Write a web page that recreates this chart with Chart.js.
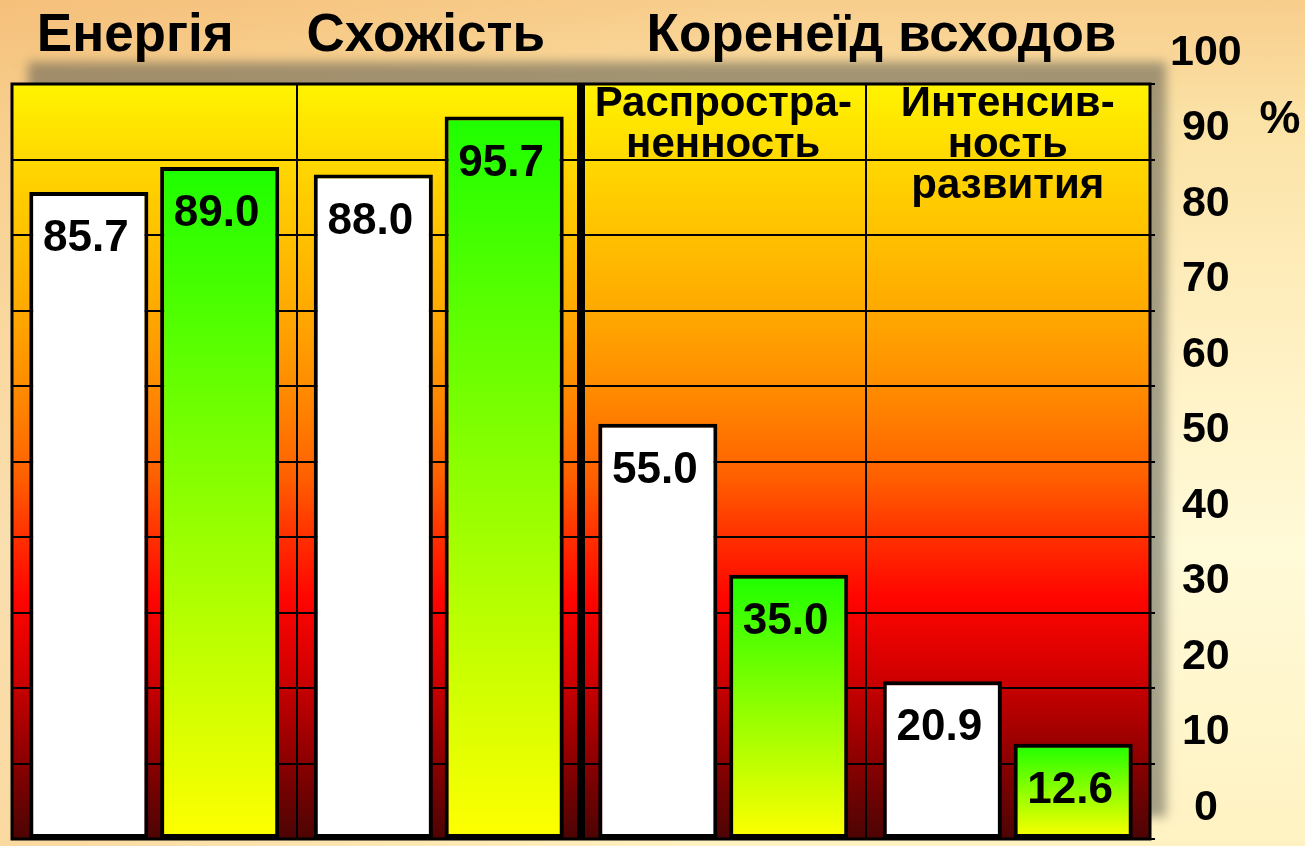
<!DOCTYPE html>
<html>
<head>
<meta charset="utf-8">
<script src="https://cdn.jsdelivr.net/npm/chart.js@4"></script>
<style>
  html, body { margin: 0; padding: 0; }
  body {
    width: 1305px; height: 846px; overflow: hidden;
    background:
      linear-gradient(90deg, rgba(238,160,80,0.30) 0%, rgba(255,255,255,0) 55%),
      linear-gradient(180deg, #f8cd8c 0%, #fbe2a6 14%, #fff0c2 40%, #fffad8 65%, #fff2c2 100%);
  }
  #wrap { position: absolute; left: 0; top: 0; width: 1305px; height: 846px; }
</style>
</head>
<body>
<div id="wrap"><canvas id="chart" width="1305" height="846"></canvas></div>
<script>
// values
var categories = ['Енергія', 'Схожість', 'Распространенность', 'Интенсивность развития'];
var control = [85.7, 88.0, 55.0, 20.9];
var treated = [89.0, 95.7, 35.0, 12.6];

// text above the plot and inside its top rows
var titles = [
  { text: 'Енергія', from: 0, to: 0 },
  { text: 'Схожість', from: 1, to: 1 },
  { text: 'Коренеїд всходов', from: 2, to: 3 }
];
var headers = [[], [], ['Распростра-', 'ненность'], ['Интенсив-', 'ность', 'развития']];

var FONT = '"Liberation Sans", Arial, sans-serif';
// the slide's titles are not quite centred over their columns
var titleShift = [-19, -13, 16];

function greenFill(ctx) {
  var chart = ctx.chart;
  if (!chart.chartArea || ctx.type !== 'data') return '#44ff00';
  var y = chart.scales.y;
  var g = chart.ctx.createLinearGradient(0, y.getPixelForValue(ctx.raw), 0, y.getPixelForValue(0));
  g.addColorStop(0, '#1eff00');
  g.addColorStop(1, '#ffff00');
  return g;
}

const plotBackground = {
  id: 'plotBackground',
  beforeDraw(chart) {
    const { ctx, chartArea: a } = chart;
    const g = ctx.createLinearGradient(0, a.top, 0, a.bottom);
    g.addColorStop(0.00, '#fff400');
    g.addColorStop(0.10, '#ffd800');
    g.addColorStop(0.22, '#ffbc00');
    g.addColorStop(0.32, '#ffa400');
    g.addColorStop(0.42, '#ff8600');
    g.addColorStop(0.52, '#ff6000');
    g.addColorStop(0.60, '#ff3000');
    g.addColorStop(0.68, '#ff0500');
    g.addColorStop(0.78, '#d20000');
    g.addColorStop(0.88, '#960000');
    g.addColorStop(1.00, '#4c0404');
    ctx.save();
    ctx.shadowColor = 'rgba(90, 90, 80, 0.55)';
    ctx.shadowBlur = 10;
    ctx.shadowOffsetX = 16;
    ctx.shadowOffsetY = -22;
    ctx.fillStyle = g;
    ctx.fillRect(a.left, a.top, a.right - a.left, a.bottom - a.top);
    ctx.restore();
  },
  beforeDatasetsDraw(chart) {
    const { ctx, chartArea: a } = chart;
    ctx.save();
    ctx.strokeStyle = '#000';
    ctx.lineWidth = 3;
    ctx.strokeRect(a.left, a.top, a.right - a.left, a.bottom - a.top);
    ctx.restore();
  },
  afterDraw(chart) {
    const { ctx } = chart;
    const x = chart.scales.x;
    ctx.save();
    ctx.fillStyle = '#000';
    ctx.textAlign = 'center';
    ctx.textBaseline = 'middle';

    ctx.font = 'bold 53px ' + FONT;
    titles.forEach((t, i) => {
      const cx = (x.getPixelForValue(t.from) + x.getPixelForValue(t.to)) / 2;
      ctx.fillText(t.text, cx + titleShift[i], 36);
    });

    ctx.font = 'bold 42px ' + FONT;
    headers.forEach((lines, i) => {
      lines.forEach((line, j) => {
        ctx.fillText(line, x.getPixelForValue(i), 104 + j * 41);
      });
    });

    ctx.font = 'bold 46px ' + FONT;
    ctx.fillText('%', 1280, 120);
    ctx.restore();
  },
  afterDatasetsDraw(chart) {
    const { ctx } = chart;
    ctx.save();
    ctx.fillStyle = '#000';
    ctx.textAlign = 'center';
    ctx.textBaseline = 'middle';
    ctx.font = 'bold 44px ' + FONT;
    chart.data.datasets.forEach((ds, di) => {
      chart.getDatasetMeta(di).data.forEach((bar, i) => {
        ctx.fillText(ds.data[i].toFixed(1), bar.x - 3, bar.y + 47);
      });
    });
    ctx.restore();
  }
};

new Chart(document.getElementById('chart'), {
  type: 'bar',
  data: {
    labels: categories,
    datasets: [
      {
        label: 'control',
        data: control,
        backgroundColor: '#ffffff',
        borderColor: '#000000',
        borderWidth: 4,
        borderSkipped: false
      },
      {
        label: 'treated',
        data: treated,
        backgroundColor: greenFill,
        borderColor: '#000000',
        borderWidth: 4,
        borderSkipped: false
      }
    ]
  },
  options: {
    responsive: false,
    animation: false,
    devicePixelRatio: 1,
    categoryPercentage: 0.92,
    barPercentage: 0.91,
    layout: { padding: { top: 84, left: 12, right: 0, bottom: 7 } },
    plugins: {
      legend: { display: false },
      tooltip: { enabled: false }
    },
    scales: {
      x: {
        grid: {
          offset: true,
          color: '#000',
          lineWidth: ctx => ctx.index === 2 ? 8 : 2,
          drawTicks: false
        },
        border: { display: false },
        ticks: { display: false },
        afterFit(axis) { axis.height = 0; axis.paddingLeft = 0; axis.paddingRight = 0; }
      },
      y: {
        position: 'right',
        min: 0,
        max: 100,
        grid: { color: '#000', lineWidth: 2, tickLength: 5 },
        border: { display: false },
        ticks: {
          stepSize: 10,
          padding: 15,
          crossAlign: 'center',
          labelOffset: -31,
          color: '#000',
          font: { family: FONT, weight: 'bold', size: 43 }
        },
        afterFit(axis) { axis.width = 155; axis.paddingTop = 0; axis.paddingBottom = 0; }
      }
    }
  },
  plugins: [plotBackground]
});
</script>
</body>
</html>
